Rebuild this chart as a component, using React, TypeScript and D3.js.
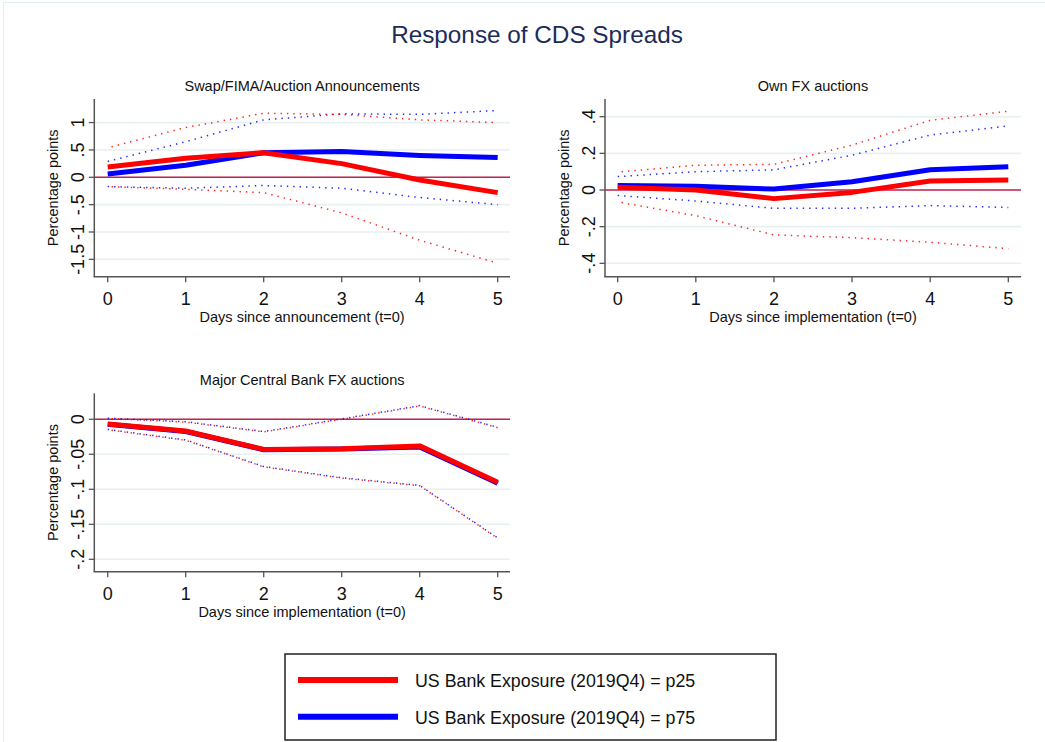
import * as d3 from 'd3'
import React from 'react'

// horizon (days)
const days = [0, 1, 2, 3, 4, 5]

// Panel 1: Swap/FIMA/Auction Announcements
const swapP25 = [0.19, 0.35, 0.45, 0.25, -0.05, -0.28]
const swapP25Hi = [0.54, 0.91, 1.17, 1.15, 1.05, 1.0]
const swapP25Lo = [-0.17, -0.22, -0.28, -0.65, -1.15, -1.57]
const swapP75 = [0.06, 0.22, 0.45, 0.47, 0.4, 0.36]
const swapP75Hi = [0.29, 0.65, 1.05, 1.16, 1.15, 1.22]
const swapP75Lo = [-0.17, -0.2, -0.15, -0.2, -0.37, -0.5]
const swapTicks = [-1.5, -1, -0.5, 0, 0.5, 1]
const swapTickLabels = ['-1.5', '-1', '-.5', '0', '.5', '1']

// Panel 2: Own FX auctions
const ownP25 = [0.015, 0.0, -0.047, -0.013, 0.049, 0.055]
const ownP25Hi = [0.098, 0.135, 0.14, 0.245, 0.38, 0.43]
const ownP25Lo = [-0.065, -0.14, -0.245, -0.26, -0.285, -0.32]
const ownP75 = [0.024, 0.02, 0.005, 0.045, 0.11, 0.127]
const ownP75Hi = [0.073, 0.1, 0.11, 0.19, 0.3, 0.35]
const ownP75Lo = [-0.03, -0.06, -0.1, -0.1, -0.085, -0.095]
const ownTicks = [-0.4, -0.2, 0, 0.2, 0.4]
const ownTickLabels = ['-.4', '-.2', '0', '.2', '.4']

// Panel 3: Major Central Bank FX auctions
const majP25 = [-0.0067, -0.0167, -0.043, -0.042, -0.038, -0.09]
const majP25Hi = [0.001, -0.004, -0.018, 0.0, 0.019, -0.012]
const majP25Lo = [-0.015, -0.03, -0.068, -0.084, -0.095, -0.17]
const majP75 = [-0.0072, -0.0175, -0.0435, -0.0425, -0.0395, -0.0915]
const majP75Hi = [0.0015, -0.0035, -0.0175, 0.0005, 0.0195, -0.0115]
const majP75Lo = [-0.0145, -0.0295, -0.0675, -0.0835, -0.0945, -0.1695]
const majTicks = [-0.2, -0.15, -0.1, -0.05, 0]
const majTickLabels = ['-.2', '-.15', '-.1', '-.05', '0']

const legendLabels = ['US Bank Exposure (2019Q4) = p25', 'US Bank Exposure (2019Q4) = p75']

const RED = '#ff0000'
const BLUE = '#0000ff'
const FONT = '"Liberation Sans", Arial, sans-serif'

interface PanelProps {
  title: string
  xTitle: string
  left: number
  right: number
  top: number
  bottom: number
  x0: number
  x5: number
  yDomain: [number, number]
  ticks: number[]
  tickLabels: string[]
  p25: number[]
  p25Hi: number[]
  p25Lo: number[]
  p75: number[]
  p75Hi: number[]
  p75Lo: number[]
}

const Panel = (p: PanelProps) => {
  const
    x = d3.scaleLinear().domain([0, 5]).range([p.x0, p.x5]),
    y = d3.scaleLinear().domain(p.yDomain).range([p.bottom, p.top]),
    line = d3.line<number>().x((_, i) => x(days[i])).y(d => y(d)),
    cx = (p.left + p.right) / 2,
    cy = (p.top + p.bottom) / 2

  return (
    <g fontFamily={FONT}>
      <text x={cx} y={p.top - 8.5} textAnchor='middle' fontSize={14.5} fill='#111'>{p.title}</text>
      {p.ticks.map(t => (
        <line key={'g' + t} x1={p.left} x2={p.right} y1={y(t)} y2={y(t)} stroke='#e8f0f2' strokeWidth={1.6} />
      ))}
      <line x1={p.left} x2={p.right} y1={y(0)} y2={y(0)} stroke='#c3224e' strokeWidth={1.4} />
      {[p.p75Hi, p.p75Lo].map((s, i) => (
        <path key={'b' + i} d={line(s)!} fill='none' stroke={BLUE} strokeWidth={1.5} strokeDasharray='1.4 5' opacity={0.85} />
      ))}
      {[p.p25Hi, p.p25Lo].map((s, i) => (
        <path key={'r' + i} d={line(s)!} fill='none' stroke={RED} strokeWidth={1.5} strokeDasharray='1.4 5' strokeDashoffset={2.5} opacity={0.85} />
      ))}
      <path d={line(p.p75)!} fill='none' stroke={BLUE} strokeWidth={5} strokeLinejoin='round' />
      <path d={line(p.p25)!} fill='none' stroke={RED} strokeWidth={5} strokeLinejoin='round' />
      <line x1={p.left} x2={p.left} y1={p.top} y2={p.bottom} stroke='#555' strokeWidth={1.5} />
      <line x1={p.left - 0.75} x2={p.right} y1={p.bottom} y2={p.bottom} stroke='#555' strokeWidth={1.5} />
      {p.ticks.map((t, i) => (
        <g key={'t' + t}>
          <line x1={p.left - 5.5} x2={p.left} y1={y(t)} y2={y(t)} stroke='#555' strokeWidth={1.3} />
          <text transform={`translate(${p.left - 10},${y(t)}) rotate(-90)`} textAnchor='middle' fontSize={18} fill='#111'>{p.tickLabels[i]}</text>
        </g>
      ))}
      {days.map(d => (
        <g key={'x' + d}>
          <line x1={x(d)} x2={x(d)} y1={p.bottom} y2={p.bottom + 5.5} stroke='#555' strokeWidth={1.3} />
          <text x={x(d)} y={p.bottom + 28} textAnchor='middle' fontSize={18} fill='#111'>{d}</text>
        </g>
      ))}
      <text x={cx} y={p.bottom + 45} textAnchor='middle' fontSize={14.5} fill='#111'>{p.xTitle}</text>
      <text transform={`translate(${p.left - 36},${cy}) rotate(-90)`} textAnchor='middle' fontSize={14.5} fill='#111'>Percentage points</text>
    </g>
  )
}

export default function App() {
  return (
    <svg width={1045} height={742} style={{ position: 'absolute', left: 0, top: 0, background: '#fff' }}>
      <rect x={0} y={0} width={1045} height={742} fill='#fff' />
      <line x1={3} x2={1045} y1={2.5} y2={2.5} stroke='#e4eeec' strokeWidth={1} />
      <line x1={3.5} x2={3.5} y1={2.5} y2={742} stroke='#e4eeec' strokeWidth={1} />
      <text x={537} y={43} textAnchor='middle' fontFamily={FONT} fontSize={24.3} fill='#1c2d5a'>Response of CDS Spreads</text>
      <Panel title='Swap/FIMA/Auction Announcements' xTitle='Days since announcement (t=0)'
        left={94.3} right={510} top={99} bottom={276.7} x0={107.7} x5={497.7}
        yDomain={[-1.817, 1.431]} ticks={swapTicks} tickLabels={swapTickLabels}
        p25={swapP25} p25Hi={swapP25Hi} p25Lo={swapP25Lo} p75={swapP75} p75Hi={swapP75Hi} p75Lo={swapP75Lo} />
      <Panel title='Own FX auctions' xTitle='Days since implementation (t=0)'
        left={605} right={1021} top={99} bottom={276.7} x0={617.7} x5={1008.3}
        yDomain={[-0.473, 0.4965]} ticks={ownTicks} tickLabels={ownTickLabels}
        p25={ownP25} p25Hi={ownP25Hi} p25Lo={ownP25Lo} p75={ownP75} p75Hi={ownP75Hi} p75Lo={ownP75Lo} />
      <Panel title='Major Central Bank FX auctions' xTitle='Days since implementation (t=0)'
        left={94.3} right={510} top={393.3} bottom={571.7} x0={107.7} x5={497.7}
        yDomain={[-0.2177, 0.0371]} ticks={majTicks} tickLabels={majTickLabels}
        p25={majP25} p25Hi={majP25Hi} p25Lo={majP25Lo} p75={majP75} p75Hi={majP75Hi} p75Lo={majP75Lo} />
      <g fontFamily={FONT}>
        <rect x={285} y={654} width={491} height={86} fill='#fff' stroke='#222' strokeWidth={1.5} />
        {legendLabels.map((l, i) => (
          <g key={l}>
            <line x1={298} x2={398} y1={680 + i * 36.7} y2={680 + i * 36.7} stroke={i === 0 ? RED : BLUE} strokeWidth={6} />
            <text x={415} y={687 + i * 36.5} fontSize={17.8} fill='#111'>{l}</text>
          </g>
        ))}
      </g>
    </svg>
  )
}
